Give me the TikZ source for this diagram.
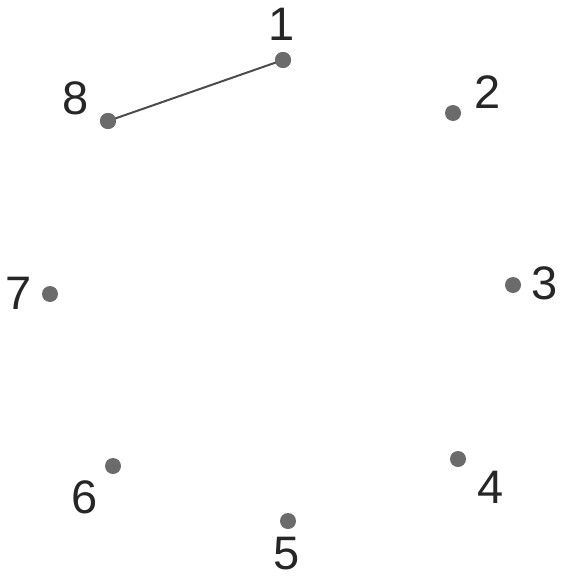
\documentclass[tikz,border=0pt]{standalone}
\usepackage{fontspec}
\setmainfont{Liberation Sans}
\begin{document}
\begin{tikzpicture}[x=1pt,y=-1pt,
			punto/.style={circle, fill=black!58, inner sep=0pt, minimum size=16pt},
			cifra/.style={font=\fontsize{47}{47}\selectfont, text=black!85, inner sep=0pt},
			segmento/.style={line width=2pt, line cap=round, black!70},
			]
			\useasboundingbox (0,0) rectangle (562,581);
			
			%% ── punti ──────────────────────────────────────────
			\node[punto] (d1) at (283,60) {};
			\node[punto] (d2) at (453,113) {};
			\node[punto] (d3) at (513,285) {};
			\node[punto] (d4) at (458,459) {};
			\node[punto] (d5) at (288,521) {};
			\node[punto] (d6) at (113,466) {};
			\node[punto] (d7) at (50,294) {};
			\node[punto] (d8) at (108,121) {};
			
			%% ── numeri ─────────────────────────────────────────
			\node[cifra] (l1) at (282,24) {1};
			\node[cifra] (l2) at (488,92) {2};
			\node[cifra] (l3) at (545,283) {3};
			\node[cifra] (l4) at (491,487) {4};
			\node[cifra] (l5) at (287,554) {5};
			\node[cifra] (l6) at (85,497) {6};
			\node[cifra] (l7) at (19,293) {7};
			\node[cifra] (l8) at (76,98) {8};
			
			\draw[segmento] (d8.center) -- (d1.center);
			\node[punto] at (d1) {};
			\node[punto] at (d8) {};
	\end{tikzpicture}
\end{document}
